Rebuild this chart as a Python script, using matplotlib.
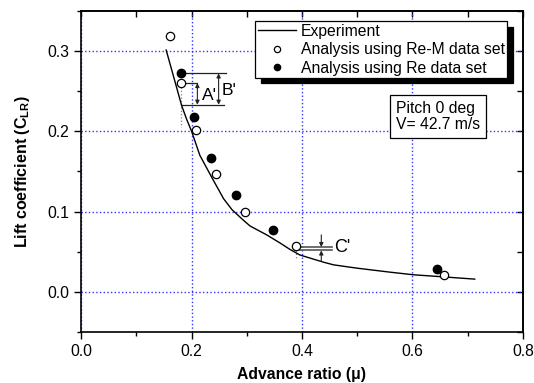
import matplotlib.pyplot as plt
from matplotlib.ticker import MultipleLocator

plt.rcParams['font.family'] = ['Liberation Sans', 'DejaVu Sans']
plt.rcParams['mathtext.fontset'] = 'custom'
plt.rcParams['mathtext.rm'] = 'Liberation Sans'
plt.rcParams['mathtext.bf'] = 'Liberation Sans:bold'

# measured curve
mu_exp = [0.154, 0.167, 0.182, 0.191, 0.200, 0.215, 0.237, 0.258, 0.273, 0.291,
          0.306, 0.336, 0.360, 0.378, 0.396, 0.415, 0.439, 0.457, 0.499, 0.559,
          0.602, 0.650, 0.713]
cl_exp = [0.301, 0.269, 0.232, 0.215, 0.200, 0.170, 0.142, 0.116, 0.1025, 0.091,
          0.082, 0.071, 0.061, 0.053, 0.046, 0.042, 0.037, 0.0337, 0.0296, 0.0246,
          0.0213, 0.019, 0.0159]

# analysis with Re-M data set (open)
mu_rem = [0.161, 0.181, 0.208, 0.244, 0.297, 0.390, 0.657]
cl_rem = [0.318, 0.260, 0.201, 0.147, 0.099, 0.057, 0.021]

# analysis with Re data set (filled)
mu_re = [0.181, 0.204, 0.235, 0.280, 0.348, 0.6455]
cl_re = [0.273, 0.218, 0.167, 0.120, 0.0775, 0.0287]

fig = plt.figure(figsize=(5.34, 3.83), dpi=100)
ax = fig.add_axes([0.152, 0.133, 0.827, 0.839])

ax.plot(mu_exp, cl_exp, color='black', lw=1.0, label='Experiment', zorder=3)
ax.plot(mu_rem, cl_rem, 'o', ms=6, mfc='white', mec='black', mew=0.9,
        label='Analysis using Re-M data set', zorder=4)
ax.plot(mu_re, cl_re, 'o', ms=6, mfc='black', mec='black',
        label='Analysis using Re data set', zorder=4)

# A', B' markers
ink = '#222222'
ax.plot([0.182, 0.262], [0.272, 0.272], color=ink, lw=0.9)
ax.plot([0.182, 0.209], [0.260, 0.260], color=ink, lw=0.9)
ax.plot([0.183, 0.258], [0.233, 0.233], color=ink, lw=0.9)
ax.plot([0.181, 0.181], [0.255, 0.205], color='gray', lw=0.9, ls=':')
arr = dict(arrowstyle='<|-|>', color=ink, lw=0.8, mutation_scale=6,
           shrinkA=0, shrinkB=0)
ax.annotate('', xy=(0.2105, 0.260), xytext=(0.2105, 0.233), arrowprops=arr)
ax.annotate('', xy=(0.249, 0.272), xytext=(0.249, 0.233), arrowprops=arr)
ax.text(0.218, 0.245, "A'", fontsize=12.5, va='center', ha='left')
ax.text(0.254, 0.251, "B'", fontsize=12.5, va='center', ha='left')

# C' marker
ax.plot([0.394, 0.454], [0.0558, 0.0558], color='#555555', lw=1.2)
ax.plot([0.394, 0.454], [0.0516, 0.0516], color='#555555', lw=1.2)
ax.plot([0.389, 0.389], [0.052, 0.040], color='gray', lw=0.9, ls=':')
one = dict(arrowstyle='-|>', color=ink, lw=0.8, mutation_scale=6,
           shrinkA=0, shrinkB=0)
ax.annotate('', xy=(0.435, 0.0558), xytext=(0.435, 0.071), arrowprops=one)
ax.annotate('', xy=(0.435, 0.0516), xytext=(0.435, 0.0385), arrowprops=one)
ax.text(0.458, 0.055, "C'", fontsize=13, va='center', ha='left')

ax.set_xlim(0.0, 0.8)
ax.set_ylim(-0.05, 0.35)
ax.xaxis.set_major_locator(MultipleLocator(0.2))
ax.xaxis.set_minor_locator(MultipleLocator(0.1))
ax.yaxis.set_major_locator(MultipleLocator(0.1))
ax.yaxis.set_minor_locator(MultipleLocator(0.05))
ax.xaxis.set_major_formatter(lambda v, p: f'{v:.1f}')
ax.yaxis.set_major_formatter(lambda v, p: f'{v:.1f}')
ax.tick_params(which='major', direction='out', length=5, width=1, labelsize=11.3)
ax.tick_params(which='minor', direction='out', length=3, width=1)
ax.grid(which='major', color='#3333ff', ls=':', lw=1.0)

sx = ax.secondary_xaxis('top')
sx.xaxis.set_major_locator(MultipleLocator(0.1))
sx.tick_params(direction='in', length=4, width=1, labeltop=False)
sy = ax.secondary_yaxis('right')
sy.yaxis.set_major_locator(MultipleLocator(0.05))
sy.tick_params(direction='in', length=4, width=1, labelright=False)
for s in list(ax.spines.values()) + [sx.spines['top'], sy.spines['right']]:
    s.set_linewidth(1.2)

ax.set_xlabel('Advance ratio (μ)', fontsize=11.3, fontweight='bold', labelpad=6)
ax.set_ylabel(r'Lift coefficient (C$_{\mathbf{LR}}$)', fontsize=11.5,
              fontweight='bold', labelpad=11)

leg = ax.legend(loc='upper right', bbox_to_anchor=(0.965, 0.967),
                borderaxespad=0, fontsize=11.3, frameon=True, fancybox=False,
                edgecolor='black', framealpha=1, handlelength=2.45,
                handletextpad=0.3, borderpad=0.15, labelspacing=0.22,
                markerscale=0.75,
                shadow={'color': 'black', 'alpha': 1, 'ox': 4, 'oy': -4})
leg.get_frame().set_linewidth(0.9)

ax.text(0.570, 0.218, 'Pitch 0 deg\nV= 42.7 m/s', fontsize=11.3,
        va='center', ha='left', linespacing=1.05,
        bbox=dict(boxstyle='square,pad=0.4', fc='white', ec='black', lw=0.9))

fig.savefig('out.png', dpi=100)
